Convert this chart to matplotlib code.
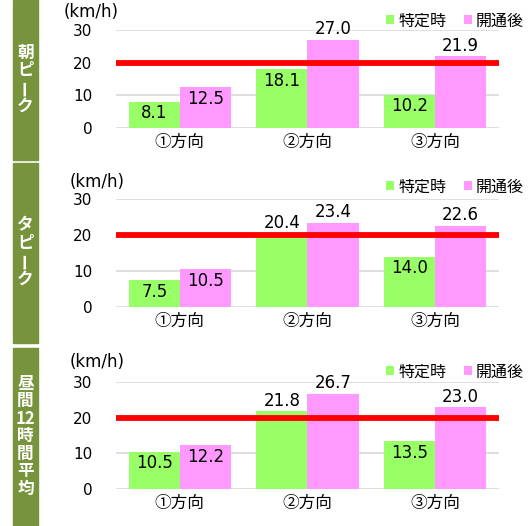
import matplotlib
matplotlib.use("Agg")
import matplotlib.pyplot as plt
import numpy as np

plt.rcParams["font.family"] = ["DejaVu Sans", "Noto Sans CJK JP"]

categories = ["①方向", "②方向", "③方向"]
series_names = ["特定時", "開通後"]
panel_titles = [["朝", "ピ", "ー", "ク"],
                ["タ", "ピ", "ー", "ク"],
                ["昼", "間", "12", "時", "間", "平", "均"]]
before = [[8.1, 18.1, 10.2],
          [7.5, 20.4, 14.0],
          [10.5, 21.8, 13.5]]
after = [[12.5, 27.0, 21.9],
         [10.5, 23.4, 22.6],
         [12.2, 26.7, 23.0]]
threshold = 20

W, H = 528, 526
GREEN = "#99FF66"
PINK = "#FF99FF"
STRIP = "#77933C"
CJK = ["Noto Sans CJK JP", "DejaVu Sans"]

fig = plt.figure(figsize=(W / 100, H / 100), dpi=100)

# pixel layout: (y of 0 line, y of 30 line, strip top, strip bottom, unit label y, legend y)
layout = [(128, 30, 0, 160, 12, 21),
          (307, 199, 163, 343, 182, 187),
          (489, 382, 348, 526, 362, 372)]
x_left, x_right = 116, 499

x = np.arange(len(categories))
bw = 0.4

for i in range(3):
    y0, y30, s_top, s_bot, unit_y, leg_y = layout[i]
    ax = fig.add_axes([x_left / W, (H - y0) / H, (x_right - x_left) / W, (y0 - y30) / H])
    b1 = ax.bar(x - bw / 2, before[i], bw, color=GREEN, label=series_names[0], zorder=2)
    b2 = ax.bar(x + bw / 2, after[i], bw, color=PINK, label=series_names[1], zorder=2)
    ax.set_xlim(-0.5, 2.5)
    ax.set_ylim(0, 30)
    ax.set_yticks([0, 10, 20, 30])
    ax.grid(axis="y", color="#D9D9D9", linewidth=1.2, zorder=0)
    ax.set_axisbelow(True)
    for s in ax.spines.values():
        s.set_visible(False)
    ax.tick_params(axis="y", length=0, pad=17, labelsize=11)
    ax.tick_params(axis="x", length=0, pad=4)
    ax.set_xticks(x)
    ax.set_xticklabels(categories, family=CJK, fontsize=12)
    ax.axhline(threshold, color="#FF0000", linewidth=4.2, zorder=3)

    for bars, vals in ((b1, before[i]), (b2, after[i])):
        for bar, v in zip(bars, vals):
            cx = bar.get_x() + bar.get_width() / 2
            if v > threshold:
                ax.annotate(f"{v:.1f}", (cx, v), xytext=(0, 1), textcoords="offset points",
                            ha="center", va="bottom", fontsize=12, zorder=4,
                            annotation_clip=False)
            else:
                ax.annotate(f"{v:.1f}", (cx, v), xytext=(0, -2), textcoords="offset points",
                            ha="center", va="top", fontsize=12, zorder=4)

    ax.legend(loc="center right", bbox_to_anchor=(524 / W, 1 - leg_y / H),
              bbox_transform=fig.transFigure, ncol=2, frameon=False,
              prop={"family": CJK, "size": 11.5},
              handlelength=0.5, handleheight=0.5, handletextpad=0.25, columnspacing=1.1,
              borderaxespad=0, borderpad=0)

    fig.text((64 if i == 0 else 70) / W, 1 - unit_y / H, "(km/h)", fontsize=12,
             ha="left", va="center")

    # side strip with vertical title
    fig.patches.append(plt.Rectangle((13 / W, 1 - s_bot / H), 25 / W, (s_bot - s_top) / H,
                                     transform=fig.transFigure, color=STRIP, zorder=0))
    chars = panel_titles[i]
    step = 17.5
    mid = (s_top + s_bot) / 2 - 1
    start = mid - step * (len(chars) - 1) / 2
    for k, ch in enumerate(chars):
        fig.text(25.5 / W, 1 - (start + k * step) / H, ch, color="white", fontsize=12,
                 fontweight="bold", ha="center", va="center", family=CJK,
                 rotation=90 if ch == "ー" else 0)

fig.savefig("out.png", dpi=100)
